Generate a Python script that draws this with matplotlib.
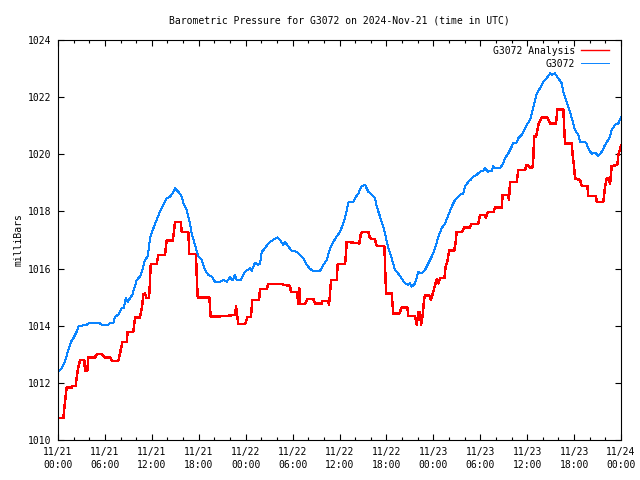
import matplotlib
matplotlib.use("Agg")
import matplotlib.pyplot as plt
from matplotlib.ticker import MultipleLocator, FixedLocator

# hours since 2024-11-21 00:00 UTC, pressure in mb
obs_hours = [0.0, 0.47, 0.90, 1.24, 1.66, 1.96, 2.39, 2.60, 2.94, 3.67, 3.88, 5.37, 5.59, 6.36, 6.65, 7.07,
             7.29, 7.71, 7.93, 8.15, 8.44, 8.66, 8.91, 9.21, 9.50, 9.76, 10.07, 10.49, 10.78, 11.13, 11.47,
             11.77, 12.11, 12.62, 13.04, 13.47, 13.90, 14.32, 14.67, 14.96, 15.39, 15.82, 16.03, 16.46,
             16.66, 16.88, 17.10, 17.52, 17.94, 18.38, 18.80, 19.22, 19.66, 20.08, 20.72, 21.14, 21.58,
             22.00, 22.34, 22.64, 22.85, 23.37, 23.70, 23.92, 24.56, 24.77, 25.20, 25.54, 25.83, 26.05,
             26.47, 26.90, 27.33, 27.66, 28.10, 28.39, 28.81, 29.03, 29.45, 29.89, 30.53, 30.95, 31.37,
             31.81, 32.23, 32.65, 33.51, 33.93, 34.37, 34.79, 35.21, 35.64, 36.07, 36.49, 36.83, 37.13,
             37.77, 37.98, 38.41, 38.84, 39.26, 39.69, 40.12, 40.54, 40.76, 41.18, 41.53, 41.82, 42.24,
             42.68, 43.10, 43.65, 44.08, 44.38, 44.80, 45.02, 45.24, 45.66, 46.08, 46.51, 46.94, 47.36,
             47.79, 48.22, 48.64, 49.07, 49.49, 49.92, 50.35, 50.77, 51.41, 51.84, 52.05, 52.47, 52.82,
             53.11, 53.55, 53.97, 54.39, 54.61, 54.96, 55.47, 55.68, 55.90, 56.53, 56.95, 57.17, 57.59,
             58.02, 58.23, 58.66, 58.87, 59.30, 59.51, 59.94, 60.37, 60.58, 60.79, 61.22, 61.64, 62.07,
             62.50, 62.92, 63.14, 63.56, 63.98, 64.42, 64.62, 65.06, 65.48, 65.83, 66.12, 66.54, 66.76,
             67.53, 67.82, 68.26, 68.68, 69.10, 69.54, 69.96, 70.51, 70.81, 71.24, 71.66, 72.0]
obs_mb = [1012.39, 1012.51, 1012.74, 1013.09, 1013.44, 1013.56, 1013.79, 1013.97, 1014.00, 1014.03, 1014.08,
          1014.08, 1014.03, 1014.03, 1014.08, 1014.08, 1014.32, 1014.38, 1014.49, 1014.61, 1014.63, 1014.96,
          1014.84, 1014.96, 1015.08, 1015.31, 1015.60, 1015.72, 1015.95, 1016.30, 1016.42, 1017.06, 1017.35,
          1017.70, 1017.99, 1018.23, 1018.46, 1018.52, 1018.63, 1018.81, 1018.69, 1018.52, 1018.28, 1018.05,
          1017.82, 1017.58, 1017.23, 1016.83, 1016.42, 1016.30, 1015.95, 1015.78, 1015.72, 1015.54, 1015.54,
          1015.60, 1015.54, 1015.69, 1015.60, 1015.78, 1015.60, 1015.60, 1015.78, 1015.89, 1016.01, 1015.92,
          1016.21, 1016.13, 1016.16, 1016.59, 1016.71, 1016.88, 1016.97, 1017.04, 1017.09, 1017.00, 1016.83,
          1016.94, 1016.77, 1016.62, 1016.59, 1016.48, 1016.36, 1016.13, 1015.99, 1015.92, 1015.92, 1016.13,
          1016.30, 1016.71, 1016.94, 1017.12, 1017.29, 1017.58, 1017.93, 1018.31, 1018.34, 1018.46, 1018.63,
          1018.89, 1018.93, 1018.69, 1018.58, 1018.46, 1018.17, 1017.82, 1017.53, 1017.23, 1016.71, 1016.36,
          1015.95, 1015.78, 1015.60, 1015.48, 1015.43, 1015.48, 1015.37, 1015.48, 1015.89, 1015.83, 1015.95,
          1016.18, 1016.42, 1016.71, 1017.12, 1017.41, 1017.58, 1017.88, 1018.17, 1018.40, 1018.58, 1018.63,
          1018.87, 1019.04, 1019.12, 1019.22, 1019.28, 1019.39, 1019.43, 1019.51, 1019.39, 1019.42, 1019.59,
          1019.51, 1019.51, 1019.68, 1019.86, 1020.03, 1020.27, 1020.41, 1020.41, 1020.56, 1020.68, 1020.79,
          1021.03, 1021.20, 1021.43, 1021.67, 1022.13, 1022.31, 1022.54, 1022.66, 1022.83, 1022.78, 1022.83,
          1022.66, 1022.48, 1022.19, 1021.84, 1021.49, 1021.14, 1020.85, 1020.68, 1020.44, 1020.41, 1020.21,
          1020.01, 1020.06, 1019.94, 1020.09, 1020.33, 1020.56, 1020.85, 1021.03, 1021.08, 1021.30]

ana_hours = [0.0, 0.68, 0.90, 1.11, 1.75, 1.83, 2.26, 2.52, 2.81, 3.36, 3.45, 3.75, 3.88, 4.73, 4.95, 5.59,
             6.01, 6.65, 6.87, 7.71, 7.93, 8.22, 8.79, 8.91, 9.63, 9.85, 10.49, 10.78, 10.91, 11.13, 11.34,
             11.64, 11.77, 11.86, 12.62, 12.83, 13.68, 13.81, 13.90, 14.67, 14.84, 14.96, 15.69, 15.82,
             16.66, 16.79, 17.65, 17.74, 17.87, 19.35, 19.44, 19.53, 20.72, 20.81, 21.78, 22.64, 22.77,
             22.93, 23.06, 23.92, 24.21, 24.68, 24.85, 25.71, 25.84, 26.69, 26.90, 28.69, 28.82, 29.67,
             29.80, 30.53, 30.66, 30.73, 30.86, 30.95, 31.59, 31.93, 32.65, 32.87, 33.72, 33.80, 34.57,
             34.66, 34.79, 34.91, 35.64, 35.77, 36.71, 36.83, 36.92, 37.60, 38.53, 38.71, 38.88, 39.69,
             39.90, 40.54, 40.76, 41.73, 41.82, 41.95, 42.68, 42.80, 42.88, 43.65, 43.96, 44.67, 44.80,
             45.66, 45.88, 46.08, 46.30, 46.43, 46.64, 46.81, 46.94, 47.49, 47.67, 47.92, 48.22, 48.43,
             48.64, 48.86, 49.41, 49.58, 49.84, 50.01, 50.68, 50.86, 50.99, 51.71, 51.96, 52.69, 52.91,
             53.75, 53.97, 54.61, 54.70, 54.96, 55.68, 55.90, 56.75, 56.87, 57.51, 57.68, 57.81, 58.66,
             58.87, 59.72, 59.94, 60.37, 60.68, 60.79, 60.88, 61.13, 61.43, 61.86, 62.58, 62.92, 63.69,
             63.86, 64.62, 64.84, 65.70, 65.83, 66.00, 66.12, 66.76, 66.98, 67.70, 67.82, 68.81, 68.90,
             69.74, 69.96, 70.17, 70.38, 70.60, 70.81, 71.53, 71.66, 71.88, 72.0]
ana_mb = [1010.76, 1010.76, 1011.34, 1011.84, 1011.84, 1011.90, 1011.90, 1012.45, 1012.80, 1012.80, 1012.43,
          1012.43, 1012.89, 1012.89, 1013.00, 1013.00, 1012.89, 1012.89, 1012.77, 1012.77, 1013.03, 1013.42,
          1013.42, 1013.79, 1013.79, 1014.29, 1014.29, 1014.73, 1015.10, 1015.13, 1014.96, 1014.96, 1015.60,
          1016.15, 1016.15, 1016.48, 1016.48, 1016.77, 1016.98, 1016.98, 1017.29, 1017.64, 1017.64, 1017.29,
          1017.29, 1016.51, 1016.51, 1015.72, 1014.99, 1014.99, 1014.67, 1014.32, 1014.32, 1014.34, 1014.35,
          1014.38, 1014.67, 1014.32, 1014.05, 1014.05, 1014.29, 1014.32, 1014.90, 1014.90, 1015.29, 1015.29,
          1015.46, 1015.46, 1015.43, 1015.40, 1015.17, 1015.17, 1014.96, 1014.75, 1015.31, 1014.75, 1014.75,
          1014.94, 1014.94, 1014.78, 1014.78, 1014.87, 1014.87, 1014.73, 1015.13, 1015.60, 1015.60, 1016.15,
          1016.15, 1016.53, 1016.94, 1016.91, 1016.88, 1017.18, 1017.29, 1017.29, 1017.06, 1017.02, 1016.79,
          1016.79, 1016.18, 1015.13, 1015.13, 1014.67, 1014.43, 1014.43, 1014.64, 1014.64, 1014.34, 1014.34,
          1014.03, 1014.46, 1014.46, 1014.03, 1014.38, 1014.90, 1015.06, 1015.06, 1014.92, 1015.11, 1015.43,
          1015.62, 1015.48, 1015.66, 1015.66, 1016.07, 1016.30, 1016.63, 1016.63, 1016.94, 1017.29, 1017.29,
          1017.44, 1017.44, 1017.56, 1017.56, 1017.88, 1017.88, 1017.79, 1017.97, 1017.97, 1018.14, 1018.14,
          1018.58, 1018.58, 1018.42, 1019.04, 1019.04, 1019.45, 1019.45, 1019.63, 1019.54, 1019.54, 1019.86,
          1020.62, 1020.62, 1021.03, 1021.29, 1021.29, 1021.08, 1021.08, 1021.57, 1021.57, 1020.38, 1020.38,
          1019.92, 1019.57, 1019.16, 1019.10, 1018.89, 1018.89, 1018.54, 1018.54, 1018.34, 1018.34, 1018.87,
          1019.16, 1019.16, 1018.96, 1019.59, 1019.63, 1019.98, 1020.17, 1020.30]

tick_hours = [0, 6, 12, 18, 24, 30, 36, 42, 48, 54, 60, 66, 72]
tick_labels = ["11/21\n00:00", "11/21\n06:00", "11/21\n12:00", "11/21\n18:00",
               "11/22\n00:00", "11/22\n06:00", "11/22\n12:00", "11/22\n18:00",
               "11/23\n00:00", "11/23\n06:00", "11/23\n12:00", "11/23\n18:00",
               "11/24\n00:00"]

plt.rcParams["font.family"] = "DejaVu Sans Mono"
plt.rcParams["font.size"] = 7

fig = plt.figure(figsize=(6.4, 4.8), dpi=100)
ax = fig.add_axes([58 / 640, 1 - 440 / 480, 563 / 640, 400 / 480])

ax.plot(ana_hours, ana_mb, color="#ff0000", linewidth=1.0, label="G3072 Analysis", antialiased=False)
ax.plot(obs_hours, obs_mb, color="#0a84ff", linewidth=0.7, label="G3072", antialiased=False)

ax.set_xlim(0, 72)
ax.set_ylim(1010, 1024)
ax.xaxis.set_major_locator(FixedLocator(tick_hours))
ax.set_xticklabels(tick_labels, linespacing=1.35)
ax.xaxis.set_minor_locator(MultipleLocator(2))
ax.yaxis.set_major_locator(MultipleLocator(2))

ax.tick_params(which="both", direction="in", top=True, right=True, width=0.8, colors="black")
ax.tick_params(which="major", length=4.5, pad=5)
ax.tick_params(which="minor", length=2.5)
for sp in ax.spines.values():
    sp.set_linewidth(0.8)

ax.set_ylabel("milliBars", labelpad=3)
ax.set_title("Barometric Pressure for G3072 on 2024-Nov-21 (time in UTC)", fontsize=7, pad=12)

leg = ax.legend(loc="upper right", bbox_to_anchor=(0.986, 0.995), frameon=False, markerfirst=False,
                handlelength=2.9, handletextpad=0.6, borderaxespad=0.0, labelspacing=0.3)
for t in leg.get_texts():
    t.set_ha("right")
leg._legend_box.align = "right"

fig.savefig("out.png", dpi=100)
